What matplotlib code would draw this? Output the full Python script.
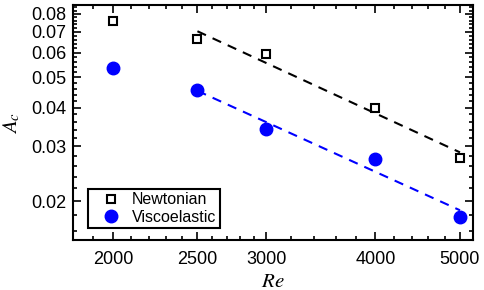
import matplotlib
matplotlib.use('Agg')
import matplotlib.pyplot as plt
import numpy as np
from matplotlib.ticker import FixedLocator, FixedFormatter, NullFormatter

re_values = [2000, 2500, 3000, 4000, 5000]
ac_newtonian = [0.0759, 0.0663, 0.0593, 0.0398, 0.0275]
ac_viscoelastic = [0.0536, 0.0455, 0.0342, 0.0273, 0.01776]
fit_start = 2500

x_ticks = [2000, 2500, 3000, 4000, 5000]
x_tick_labels = ['2000', '2500', '3000', '4000', '5000']
y_ticks = [0.02, 0.03, 0.04, 0.05, 0.06, 0.07, 0.08]
y_tick_labels = ['0.02', '0.03', '0.04', '0.05', '0.06', '0.07', '0.08']

plt.rcParams['font.family'] = ['Liberation Sans', 'DejaVu Sans']
plt.rcParams['mathtext.fontset'] = 'stix'


def power_fit(xs, ys, x_min):
    xs = np.asarray(xs, dtype=float)
    ys = np.asarray(ys, dtype=float)
    keep = xs >= x_min
    slope, icpt = np.polyfit(np.log10(xs[keep]), np.log10(ys[keep]), 1)
    x_line = np.array([xs[keep].min(), xs[keep].max()])
    return x_line, 10 ** (icpt + slope * np.log10(x_line))


fig = plt.figure(figsize=(4.85, 2.9), dpi=100)
ax = fig.add_axes([0.1505, 0.1724, 0.8248, 0.8104])

xl, yl = power_fit(re_values, ac_newtonian, fit_start)
ax.plot(xl, yl, '--', c='black', lw=1.5, dashes=(4.5, 3.5), zorder=2)
xl, yl = power_fit(re_values, ac_viscoelastic, fit_start)
ax.plot(xl, yl, '--', c='#0000ff', lw=1.5, dashes=(4.5, 3.5), zorder=2)

ax.plot(re_values, ac_newtonian, 's', ms=6, mfc='none', mec='black', mew=1.5,
        ls='none', label='Newtonian', zorder=3)
ax.plot(re_values, ac_viscoelastic, 'o', ms=9, mfc='#0000ff', mec='#0000ff',
        ls='none', label='Viscoelastic', zorder=3)

ax.set_xscale('log')
ax.set_yscale('log')
ax.set_xlim(1800, 5175)
ax.set_ylim(0.015, 0.0855)

x_minor = [1900, 2100, 2200, 2300, 2400, 2600, 2700, 2800, 2900,
           3200, 3400, 3600, 3800, 4200, 4400, 4600, 4800]
y_minor = [v for v in np.round(np.arange(0.016, 0.0855, 0.002), 3)
           if not np.any(np.isclose(v, y_ticks))]

ax.xaxis.set_major_locator(FixedLocator(x_ticks))
ax.xaxis.set_major_formatter(FixedFormatter(x_tick_labels))
ax.xaxis.set_minor_locator(FixedLocator(x_minor))
ax.xaxis.set_minor_formatter(NullFormatter())
ax.yaxis.set_major_locator(FixedLocator(y_ticks))
ax.yaxis.set_major_formatter(FixedFormatter(y_tick_labels))
ax.yaxis.set_minor_locator(FixedLocator(y_minor))
ax.yaxis.set_minor_formatter(NullFormatter())

ax.tick_params(which='both', direction='in', top=True, right=True,
               width=1.2, labelsize=13)
ax.tick_params(which='major', length=5.5)
ax.tick_params(which='minor', length=3.2)
ax.tick_params(axis='x', which='major', pad=8)
ax.tick_params(axis='y', which='major', pad=5)
for sp in ax.spines.values():
    sp.set_linewidth(1.5)

ax.set_xlabel('$Re$', fontsize=15, labelpad=3)
ax.set_ylabel('$A_c$', fontsize=15, labelpad=6)

leg = ax.legend(loc='lower left', bbox_to_anchor=(0.0375, 0.051),
                borderaxespad=0, fontsize=11.5, frameon=True, fancybox=False,
                edgecolor='black', framealpha=1, borderpad=0.22,
                handlelength=2.4, handletextpad=0.15, labelspacing=0.15)
leg.get_frame().set_linewidth(1.5)

fig.savefig('out.png', dpi=100)
